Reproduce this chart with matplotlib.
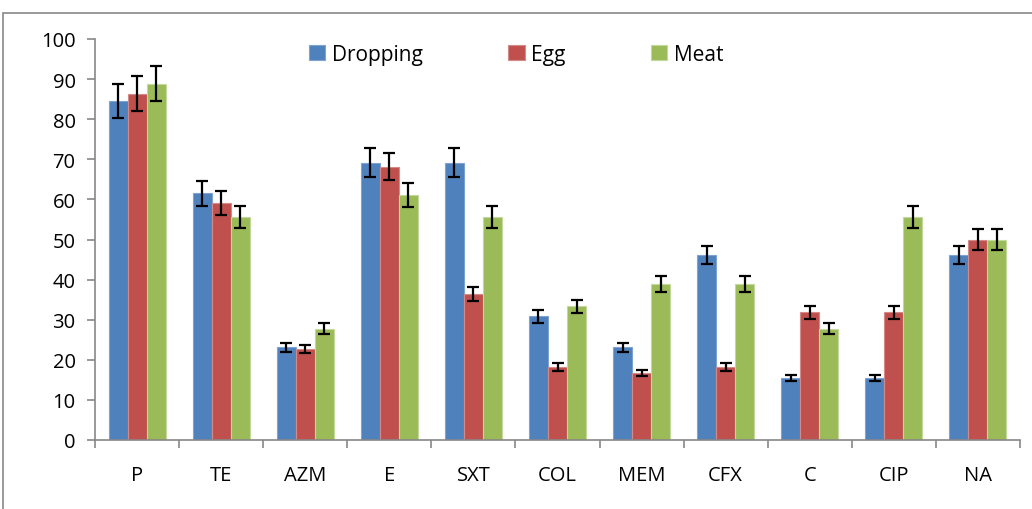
import matplotlib
matplotlib.use("Agg")
import matplotlib.pyplot as plt
from matplotlib.patches import Rectangle
import numpy as np

categories = ["P", "TE", "AZM", "E", "SXT", "COL", "MEM", "CFX", "C", "CIP", "NA"]
dropping = [84.6, 61.5, 23.1, 69.2, 69.2, 30.8, 23.1, 46.2, 15.4, 15.4, 46.2]
egg = [86.4, 59.1, 22.7, 68.2, 36.4, 18.2, 16.7, 18.2, 31.8, 31.8, 50.0]
meat = [88.9, 55.6, 27.8, 61.1, 55.6, 33.3, 38.9, 38.9, 27.8, 55.6, 50.0]
dropping_err = [4.2, 3.1, 1.2, 3.5, 3.5, 1.5, 1.2, 2.3, 0.8, 0.8, 2.3]
egg_err = [4.3, 3.0, 1.1, 3.4, 1.8, 0.9, 0.8, 0.9, 1.6, 1.6, 2.5]
meat_err = [4.4, 2.8, 1.4, 3.1, 2.8, 1.7, 1.9, 1.9, 1.4, 2.8, 2.5]
series = ["Dropping", "Egg", "Meat"]
colors = ["#4F81BD", "#C0504D", "#9BBB59"]
edge_colors = ["#7FA3D1", "#D48A88", "#C3D89C"]
yticks = list(range(0, 101, 10))

plt.rcParams['font.family'] = ['Open Sans', 'DejaVu Sans']

fig = plt.figure(figsize=(10.32, 5.10), dpi=100)
fig.patches.append(Rectangle((3/1032, -0.1), 1.2, (510-14)/510 + 0.1, transform=fig.transFigure,
                             fill=False, edgecolor="#878787", linewidth=1.2))
ax = fig.add_axes([95/1032, (510-441)/510, (1020-95)/1032, (441-40)/510])

x = np.arange(len(categories))
w = 0.226
data = [dropping, egg, meat]
errs = [dropping_err, egg_err, meat_err]
for i, (vals, er) in enumerate(zip(data, errs)):
    ax.bar(x + (i - 1) * w, vals, w, color=colors[i], edgecolor=edge_colors[i], linewidth=0.8,
           label=series[i], yerr=er, error_kw=dict(ecolor="black", elinewidth=1.6, capsize=4.5, capthick=1.6))

ax.set_xlim(-0.5, len(categories) - 0.5)
ax.set_ylim(0, 100)
ax.set_yticks(yticks)
ax.set_yticklabels([str(t) for t in yticks], fontsize=14.5)
ax.set_xticks(x)
ax.set_xticklabels(categories, fontsize=14.5)
ax.tick_params(axis='x', length=0, pad=18)
ax.set_xticks(np.arange(-0.5, len(categories), 1), minor=True)
ax.tick_params(axis='x', which='minor', length=6, color="#878787", width=1.2)
ax.tick_params(axis='y', length=6, color="#878787", width=1.2, pad=8)
for s in ["top", "right"]:
    ax.spines[s].set_visible(False)
for s in ["left", "bottom"]:
    ax.spines[s].set_color("#878787")
    ax.spines[s].set_linewidth(1.2)

leg = ax.legend(loc="upper center", bbox_to_anchor=(0.455, 1.035), ncol=3, frameon=False, fontsize=15,
                handlelength=0.8, handleheight=0.8, handletextpad=0.3, columnspacing=4.1)

fig.savefig("out.png", dpi=100)
